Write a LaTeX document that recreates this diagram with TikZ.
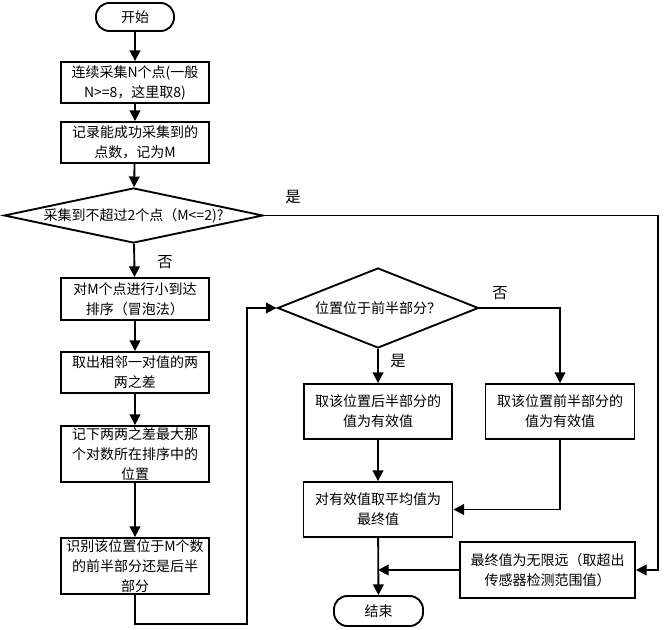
\documentclass[tikz,border=0pt]{standalone}
\usepackage{fontspec}
\setmainfont{Noto Sans CJK SC}
\usetikzlibrary{shapes.geometric,arrows.meta}
\tikzset{
    process-box/.style = {draw, line width=1.4pt, rectangle, inner sep=0pt, align=center, font=\fontsize{10.5pt}{15pt}\selectfont},
    terminal-box/.style = {process-box, rounded corners=10pt},
    decision-box/.style = {draw, line width=1.4pt, diamond, inner sep=0pt, align=center, font=\fontsize{10.5pt}{15pt}\selectfont},
    flow-arrow/.style = {line width=1.4pt, -{Triangle[length=8pt,width=8pt]}},
    flow-label/.style = {inner sep=0pt, font=\fontsize{11.5pt}{13pt}\selectfont},
}
\begin{document}
\begin{tikzpicture}[x=0.75pt,y=-0.75pt]
\useasboundingbox (0,0) rectangle (665,630);
% left column
\node[terminal-box, minimum width=58.5pt, minimum height=21pt] (start) at (135,17) {开始};
\node[process-box, minimum width=111pt, minimum height=30.75pt] (collect) at (135,82.5) {连续采集N个点(一般\\N>=8，这里取8)};
\node[process-box, minimum width=111pt, minimum height=30.75pt] (record) at (135,142.5) {记录能成功采集到的\\点数，记为M};
\node[decision-box, aspect=4.7, minimum width=194.25pt, minimum height=41.25pt] (few) at (133.5,215.5) {采集到不超过2个点（M<=2)?};
\node[process-box, minimum width=111pt, minimum height=31.5pt] (sort) at (135,299) {对M个点进行小到达\\排序（冒泡法）};
\node[process-box, minimum width=111pt, minimum height=30.75pt] (diff) at (135,372.5) {取出相邻一对值的两\\两之差};
\node[process-box, minimum width=111pt, minimum height=42pt] (maxpos) at (135,454) {记下两两之差最大那\\个对数所在排序中的\\位置};
\node[process-box, minimum width=111pt, minimum height=42pt] (half) at (135,566) {识别该位置位于M个数\\的前半部分还是后半\\部分};
% right part
\node[decision-box, aspect=2.5, minimum width=150.75pt, minimum height=60pt] (pos) at (378,308) {位置位于前半部分？};
\node[process-box, minimum width=111pt, minimum height=41.25pt] (back-val) at (378,411.5) {取该位置后半部分的\\值为有效值};
\node[process-box, minimum width=111.75pt, minimum height=41.25pt] (front-val) at (560,411.5) {取该位置前半部分的\\值为有效值};
\node[process-box, minimum width=111.75pt, minimum height=41.25pt] (avg) at (378,509.5) {对有效值取平均值为\\最终值};
\node[process-box, minimum width=131.25pt, minimum height=42pt] (inf) at (547.5,570) {最终值为无限远（取超出\\传感器检测范围值）};
\node[terminal-box, minimum width=66.75pt, minimum height=22.5pt] (end) at (378.5,611) {结束};
% labels
\node[flow-label] (yes-few) at (293,197) {是};
\node[flow-label] (no-few) at (165,262) {否};
\node[flow-label] (yes-pos) at (398,361) {是};
\node[flow-label] (no-pos) at (500,293) {否};
% connectors
\coordinate (yes-corner) at (658,570);
\coordinate (loop-corner) at (247,624);
\draw[flow-arrow] (start) -- (collect);
\draw[flow-arrow] (collect) -- (record);
\draw[flow-arrow] (record) -- (few);
\draw[flow-arrow] (few) -- (sort);
\draw[flow-arrow] (sort) -- (diff);
\draw[flow-arrow] (diff) -- (maxpos);
\draw[flow-arrow] (maxpos) -- (half);
\draw[flow-arrow] (half.south) |- (loop-corner) |- (pos.west);
\draw[flow-arrow] (few.east) -| (yes-corner) -- (inf.east);
\draw[flow-arrow] (pos.south) -- (back-val.north);
\draw[flow-arrow] (pos.east) -| (front-val.north);
\draw[flow-arrow] (back-val) -- (avg);
\draw[flow-arrow] (front-val.south) |- (avg.east);
\draw[flow-arrow] (avg) -- (end);
\draw[flow-arrow] (inf.west) -- (avg.south |- inf.west);
\end{tikzpicture}
\end{document}
